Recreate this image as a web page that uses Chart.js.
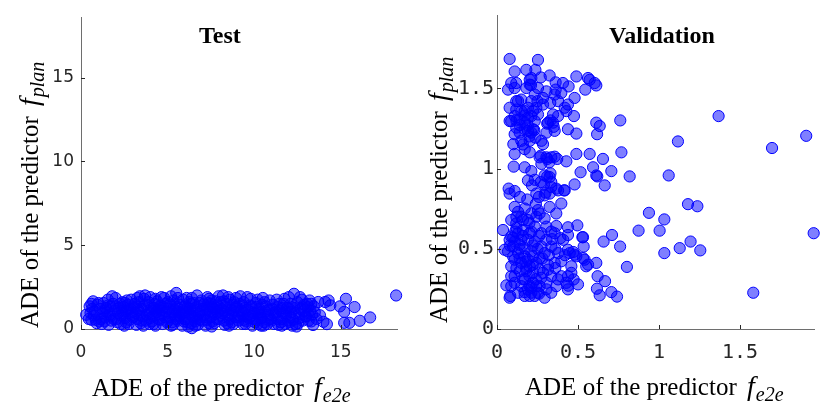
<!DOCTYPE html>
<html>
<head>
<meta charset="utf-8">
<script src="https://cdn.jsdelivr.net/npm/chart.js@4/dist/chart.umd.min.js"></script>
<style>
  html, body { margin: 0; padding: 0; background: #fff; }
  #wrap { position: relative; width: 831px; height: 408px; }
  canvas { position: absolute; top: 0; }
  #testCanvas { left: 0; }
  #valCanvas { left: 415px; }
</style>
</head>
<body>
<div id="wrap">
  <canvas id="testCanvas" width="415" height="408"></canvas>
  <canvas id="valCanvas" width="416" height="408"></canvas>
</div>
<script>
// panel titles
const titles = ["Test", "Validation"];

// tick values
const testTicksX = [0, 5, 10, 15];
const testTicksY = [0, 5, 10, 15];
const valTicksX = [0, 0.5, 1, 1.5];
const valTicksY = [0, 0.5, 1, 1.5];

// ADE f_e2e (x), ADE f_plan (y) - test set
const testPoints = [
  [0.3,0.85],[0.5,1.35],[0.6,0.55],[0.7,1.65],[0.8,1.05],[0.9,0.35],[0.95,1.45],[0.75,0.8],
  [1.1,1.2],[1.2,0.3],[1.3,1.55],[1.4,0.7],[1.5,1.0],[1.6,0.25],[1.7,1.35],[1.8,1.95],[1.9,0.6],[1.25,0.95],[1.55,1.75],[1.95,1.1],
  [2.0,1.85],[2.1,0.4],[2.2,1.25],[2.3,0.8],[2.4,1.6],[2.5,0.2],[2.6,1.05],[2.7,1.45],[2.8,0.55],[2.9,1.75],[2.15,0.95],[2.45,1.3],[2.75,0.3],[2.95,1.0],
  [3.0,0.7],[3.1,1.5],[3.2,0.25],[3.3,1.15],[3.4,1.95],[3.5,0.5],[3.6,1.35],[3.7,2.0],[3.8,0.85],[3.9,1.6],[3.15,0.95],[3.45,0.35],[3.65,1.8],[3.85,1.1],[3.55,0.75],
  [4.0,1.9],[4.1,0.45],[4.2,1.25],[4.3,0.2],[4.4,1.65],[4.5,0.9],[4.6,1.4],[4.7,0.3],[4.8,1.85],[4.9,1.05],[4.15,0.75],[4.35,1.0],[4.55,0.55],[4.75,1.3],[4.95,0.4],[4.25,1.5],
  [5.0,1.6],[5.1,0.7],[5.2,1.95],[5.3,0.25],[5.4,1.15],[5.5,2.15],[5.6,0.5],[5.7,1.45],[5.8,0.9],[5.9,1.75],[5.05,1.2],[5.25,0.4],[5.45,0.8],[5.65,1.0],[5.85,0.2],[5.35,1.7],[5.95,1.3],
  [6.0,0.6],[6.1,1.85],[6.2,0.15],[6.3,1.2],[6.4,0.05],[6.5,1.55],[6.6,0.45],[6.7,2.0],[6.8,0.9],[6.9,1.35],[6.05,1.0],[6.25,1.6],[6.45,0.75],[6.55,1.1],[6.75,0.25],[6.95,1.7],[6.35,0.35],
  [7.0,0.5],[7.1,1.45],[7.2,0.2],[7.3,1.1],[7.4,1.8],[7.5,0.7],[7.6,1.3],[7.7,0.35],[7.8,1.65],[7.9,1.0],[7.15,0.85],[7.35,1.55],[7.55,0.15],[7.75,0.9],[7.95,1.95],[7.45,1.05],
  [8.0,0.6],[8.1,1.2],[8.2,2.0],[8.3,0.25],[8.4,1.5],[8.5,0.85],[8.6,1.75],[8.7,0.4],[8.8,1.1],[8.9,0.7],[8.15,0.95],[8.35,1.3],[8.55,0.2],[8.75,1.45],[8.95,1.85],
  [9.0,1.3],[9.1,0.5],[9.2,1.95],[9.3,0.9],[9.4,1.6],[9.5,0.3],[9.6,1.15],[9.7,0.65],[9.8,1.8],[9.9,0.2],[9.25,1.1],[9.55,0.45],[9.85,1.35],
  [10.0,0.95],[10.1,1.55],[10.2,0.3],[10.3,1.2],[10.4,0.65],[10.5,1.85],[10.6,0.4],[10.7,1.35],[10.8,0.85],[10.9,1.7],[10.25,1.0],[10.55,0.2],[10.85,1.15],[10.15,0.55],
  [11.0,0.5],[11.1,1.45],[11.2,0.85],[11.3,1.75],[11.4,0.25],[11.5,1.1],[11.6,0.6],[11.7,1.5],[11.8,0.3],[11.9,1.25],[11.25,1.0],[11.55,0.4],[11.85,0.8],
  [12.0,1.9],[12.1,0.7],[12.2,1.3],[12.3,2.1],[12.4,0.3],[12.5,1.6],[12.6,0.9],[12.7,1.2],[12.8,0.5],[12.9,1.45],[12.15,1.0],[12.45,0.15],[12.75,1.75],[12.05,0.4],
  [13.0,0.75],[13.1,1.3],[13.2,1.7],[13.3,0.45],[13.4,0.24],[13.5,1.0],[13.7,1.61],[13.8,0.82],[14.0,0.43],[14.1,1.61],[14.2,0.29],[14.4,1.41],[14.3,1.7],
  [14.95,1.35],[15.3,1.8],[15.2,1.02],[15.8,1.31],[15.2,0.37],[15.5,0.37],[16.1,0.49],[16.7,0.69],[18.2,2.0],
  [0.45,0.6],[0.65,1.2],[0.85,0.55],[1.0,1.55],[1.15,0.6],[1.35,0.45],[1.45,1.25],[1.65,0.85],[1.75,0.5],[1.85,1.5],
  [2.05,0.6],[2.25,1.5],[2.35,1.1],[2.55,0.65],[2.65,1.7],[2.85,1.2],[2.6,0.4],[2.3,0.3],
  [3.05,1.3],[3.25,0.6],[3.35,1.6],[3.5,1.2],[3.75,0.5],[3.95,0.3],[3.25,1.85],[3.6,0.2],
  [4.05,1.2],[4.2,0.3],[4.45,0.6],[4.6,1.1],[4.65,1.9],[4.85,0.7],[4.3,1.8],[4.5,1.3],
  [5.0,0.45],[5.15,1.45],[5.3,1.0],[5.55,1.3],[5.6,1.85],[5.75,0.65],[5.9,1.05],[5.2,0.2],[5.5,0.6],
  [6.0,1.4],[6.15,0.4],[6.3,0.85],[6.4,1.85],[6.6,0.2],[6.65,1.3],[6.85,0.55],[6.9,1.05],[6.2,1.05],[6.55,0.7],
  [7.05,1.2],[7.25,0.55],[7.3,1.9],[7.5,1.5],[7.6,0.45],[7.7,1.2],[7.85,0.6],[7.9,1.4],[7.4,0.35],
  [8.05,1.6],[8.25,0.5],[8.3,1.05],[8.45,0.35],[8.5,1.9],[8.65,1.15],[8.8,0.3],[8.9,1.3],[8.6,0.6],
  [9.05,0.7],[9.15,1.5],[9.35,0.3],[9.45,1.25],[9.6,1.9],[9.65,0.85],[9.75,1.4],[9.95,0.6],[9.4,0.55],
  [10.05,0.4],[10.2,1.75],[10.35,0.85],[10.45,1.45],[10.65,1.05],[10.75,0.3],[10.95,0.6],[10.4,0.2],
  [11.05,1.2],[11.15,0.3],[11.35,0.6],[11.45,1.5],[11.65,0.95],[11.75,1.8],[11.95,0.5],[11.6,0.2],
  [12.1,1.5],[12.25,0.55],[12.35,0.95],[12.55,0.35],[12.65,1.9],[12.85,1.05],[12.95,0.75],[12.2,0.2],
  [13.05,1.5],[13.15,0.5],[13.25,1.1],[13.45,1.35],[13.6,0.6],[13.35,0.85],
  [0.55,0.95],[1.05,0.45],[1.35,1.1],[1.7,0.75],[2.0,1.35],[2.4,0.95],[2.55,1.55],[2.9,0.8],[3.2,1.35],[3.4,0.8],
  [3.75,1.45],[4.0,0.65],[4.3,1.15],[4.65,0.8],[4.9,1.5],[5.1,0.95],[5.4,1.45],[5.7,0.75],[5.95,0.45],[6.15,1.3],
  [6.45,1.0],[6.7,0.6],[6.85,1.55],[7.1,0.7],[7.3,1.35],[7.6,0.95],[7.85,1.25],[8.1,0.8],[8.4,1.1],[8.7,0.9],
  [8.85,1.6],[9.1,1.05],[9.35,1.4],[9.6,0.75],[9.85,1.0],[10.1,1.3],[10.4,1.0],[10.6,1.6],[10.8,0.55],[11.1,0.95],
  [11.35,1.3],[11.6,1.25],[11.8,1.05],[12.0,1.2],[12.35,1.25],[12.6,0.65],[12.8,1.3],[13.1,0.95],[13.3,1.5],[3.9,0.95],
  [2.7,1.1],[1.55,1.4],[0.6,1.5],[4.45,1.2],[5.55,1.05],[6.35,1.5],[7.55,1.7],[8.25,1.65],[9.25,0.75],[10.3,0.8]
];

// ADE f_e2e (x), ADE f_plan (y) - validation set
const valPoints = [
  [0.078,1.683],[0.253,1.677],[0.109,1.605],[0.181,1.615],[0.237,1.615],[0.088,1.533],[0.119,1.533],[0.202,1.553],
  [0.27,1.568],[0.325,1.58],[0.362,1.537],[0.407,1.533],[0.442,1.512],[0.49,1.574],[0.562,1.564],[0.572,1.553],
  [0.603,1.533],[0.613,1.518],[0.545,1.492],[0.479,1.44],[0.438,1.399],[0.428,1.358],[0.475,1.327],[0.377,1.327],
  [0.315,1.286],[0.346,1.337],[0.284,1.44],[0.233,1.461],[0.181,1.502],[0.202,1.523],[0.305,1.481],[0.362,1.492],
  [0.329,1.409],[0.284,1.399],[0.119,1.42],[0.15,1.43],[0.078,1.379],[0.088,1.296],[0.109,1.327],[0.14,1.307],
  [0.119,1.255],[0.171,1.286],[0.212,1.327],[0.191,1.235],[0.222,1.245],[0.237,1.193],[0.284,1.152],[0.305,1.224],
  [0.356,1.235],[0.346,1.286],[0.438,1.245],[0.49,1.218],[0.613,1.286],[0.634,1.265],[0.618,1.214],[0.761,1.3],
  [0.101,1.152],[0.109,1.091],[0.171,1.121],[0.202,1.101],[0.15,1.173],[0.263,1.07],[0.305,1.07],[0.335,1.07],
  [0.356,1.074],[0.372,1.06],[0.274,1.029],[0.323,1.039],[0.428,1.045],[0.49,1.091],[0.572,1.091],[0.654,1.06],
  [0.768,1.101],[0.593,1.008],[0.516,0.977],[0.706,0.984],[0.613,0.957],[0.619,0.951],[0.665,0.895],[0.819,0.951],
  [1.06,0.957],[1.117,1.169],[1.368,1.327],[1.698,1.128],[1.909,1.204],
  [0.103,1.012],[0.171,1.008],[0.212,0.984],[0.191,0.926],[0.233,0.93],[0.27,0.916],[0.216,0.895],[0.294,0.957],
  [0.325,0.947],[0.335,0.916],[0.335,0.885],[0.366,0.875],[0.414,0.864],[0.479,0.901],[0.259,0.823],[0.243,0.844],
  [0.294,0.833],[0.325,0.844],[0.187,0.807],[0.072,0.875],[0.109,0.86],[0.078,0.844],[0.142,0.823],[0.109,0.761],
  [0.13,0.73],[0.171,0.751],[0.15,0.7],[0.088,0.679],[0.119,0.658],[0.191,0.679],[0.253,0.741],[0.263,0.72],
  [0.243,0.7],[0.294,0.689],[0.366,0.72],[0.366,0.642],[0.438,0.634],[0.496,0.646],[0.037,0.617],[0.113,0.607],
  [0.16,0.617],[0.212,0.607],[0.274,0.597],[0.335,0.607],[0.391,0.566],[0.438,0.586],[0.531,0.572],[0.71,0.586],
  [0.658,0.545],[0.76,0.514],[0.874,0.613],[0.938,0.724],[1.033,0.683],[1.004,0.613],[1.179,0.778],[1.237,0.765],
  [1.195,0.545],[1.128,0.504],[1.255,0.49],[1.033,0.473],[1.955,0.597],[1.582,0.226],[0.802,0.387],[0.741,0.202],
  [0.706,0.23],[0.634,0.21],[0.617,0.251],[0.667,0.298],[0.621,0.329],[0.613,0.412],[0.562,0.401],[0.541,0.432],
  [0.535,0.514],[0.527,0.572],[0.5,0.278],[0.479,0.463],[0.438,0.494],[0.459,0.391],[0.459,0.35],[0.428,0.288],
  [0.438,0.247],[0.377,0.309],[0.366,0.267],[0.335,0.226],[0.294,0.195],[0.305,0.247],[0.397,0.422],[0.356,0.412],
  [0.377,0.473],[0.335,0.514],[0.315,0.401],[0.284,0.35],[0.315,0.37],[0.222,0.288],[0.202,0.206],[0.233,0.206],
  [0.191,0.247],[0.171,0.309],[0.14,0.36],[0.109,0.329],[0.088,0.267],[0.058,0.272],[0.078,0.195],[0.082,0.206],
  [0.109,0.288],[0.15,0.267],[0.088,0.391],[0.109,0.432],[0.15,0.412],[0.191,0.432],[0.222,0.453],[0.243,0.412],
  [0.263,0.37],[0.274,0.319],[0.222,0.35],[0.181,0.36],[0.202,0.391],[0.212,0.484],[0.171,0.504],[0.14,0.525],
  [0.099,0.514],[0.047,0.494],[0.068,0.484],[0.109,0.545],[0.088,0.576],[0.15,0.556],[0.191,0.556],[0.233,0.545],
  [0.274,0.514],[0.294,0.473],[0.305,0.556],[0.263,0.442],[0.171,0.453],[0.13,0.473],[0.13,0.597],[0.078,0.556],
  [0.202,0.597],[0.233,0.638],[0.305,0.638],[0.356,0.597],[0.409,0.556],[0.449,0.473],[0.49,0.453],[0.531,0.442],
  [0.551,0.391],[0.088,0.329],[0.13,0.226],[0.171,0.206],[0.212,0.226],[0.253,0.226],[0.263,0.267],[0.305,0.288],
  [0.335,0.329],[0.397,0.329],[0.438,0.329],[0.473,0.309],[0.212,0.257],[0.243,0.267],[0.16,0.679],[0.212,0.72],
  [0.325,0.761],[0.397,0.782],[0.377,0.864],[0.418,0.864],
  [0.109,1.502],[0.191,1.379],[0.212,1.42],[0.243,1.379],[0.171,1.358],[0.222,1.358],[0.191,1.317],[0.233,1.296],
  [0.253,1.337],[0.171,1.245],[0.14,1.224],[0.212,1.224],[0.274,1.173],[0.202,1.173],[0.109,1.214],[0.078,1.296],
  [0.119,1.368],[0.15,1.358],[0.068,1.492],[0.377,1.42],[0.418,1.379],[0.397,1.471],[0.356,1.461],[0.253,1.502],
  [0.212,1.564],
  [0.1,0.45],[0.12,0.38],[0.16,0.31],[0.18,0.42],[0.2,0.33],[0.22,0.4],[0.24,0.31],[0.26,0.22],[0.2,0.27],[0.17,0.23],
  [0.14,0.5],[0.16,0.58],[0.12,0.63],[0.08,0.52],[0.1,0.57],[0.22,0.52],[0.26,0.58],[0.28,0.44],[0.32,0.46],[0.34,0.56],
  [0.12,1.3],[0.14,1.27],[0.17,1.33],[0.19,1.27],[0.2,1.2],[0.16,1.15],[0.13,1.42],[0.23,1.24],[0.21,1.52],[0.25,1.42],
  [0.31,1.28],[0.33,1.3],[0.35,1.26],[0.29,0.9],[0.31,0.95],[0.33,0.97],[0.3,0.85],[0.27,1.08],[0.31,1.06],[0.12,0.7],
  [0.2,0.66],[0.24,0.78],[0.18,0.38],[0.14,0.44],[0.25,0.5],[0.36,0.38],[0.42,0.46],[0.47,0.48],[0.44,0.27],[0.36,0.5]
];

const TICK = "#262626";
const LABEL_FONT = "25px 'Liberation Serif'";

// draws "ADE of the predictor f_sub" with italic f and subscript
function drawRich(ctx, sub) {
  const base = "ADE of the predictor ";
  ctx.font = LABEL_FONT;
  ctx.fillText(base, 0, 0);
  let x = ctx.measureText(base).width + 4;
  ctx.font = "italic 28px 'Liberation Serif'";
  ctx.fillText("f", x, 0);
  x += ctx.measureText("f").width + 1;
  ctx.font = "italic 20px 'Liberation Serif'";
  ctx.fillText(sub, x, 6);
}

function decorPlugin(opts) {
  return {
    id: "decor",
    afterDraw(chart) {
      const ctx = chart.ctx;
      const xs = chart.scales.x, ys = chart.scales.y;
      const area = chart.chartArea;
      ctx.save();
      // inward ticks
      ctx.strokeStyle = TICK;
      ctx.lineWidth = 1;
      ctx.beginPath();
      xs.ticks.forEach(t => {
        const px = Math.round(xs.getPixelForValue(t.value)) + 0.5;
        ctx.moveTo(px, area.bottom);
        ctx.lineTo(px, area.bottom - 4);
      });
      ys.ticks.forEach(t => {
        const py = Math.round(ys.getPixelForValue(t.value)) + 0.5;
        ctx.moveTo(area.left, py);
        ctx.lineTo(area.left + 4, py);
      });
      ctx.stroke();
      // title
      ctx.fillStyle = "#000";
      ctx.textBaseline = "alphabetic";
      ctx.textAlign = "left";
      ctx.font = "bold 24px 'Liberation Serif'";
      ctx.fillText(opts.title, opts.titleX, 43);
      // x label
      ctx.save();
      ctx.translate(opts.xLabelX, opts.xLabelY);
      drawRich(ctx, "e2e");
      ctx.restore();
      // y label
      ctx.save();
      ctx.translate(opts.yLabelX, opts.yLabelY);
      ctx.rotate(-Math.PI / 2);
      drawRich(ctx, "plan");
      ctx.restore();
      ctx.restore();
    }
  };
}

function makeChart(canvasId, points, cfg) {
  return new Chart(document.getElementById(canvasId), {
    type: "scatter",
    data: {
      datasets: [{
        data: points.map(p => ({ x: p[0], y: p[1] })),
        pointRadius: 5.6,
        pointBackgroundColor: "rgba(0,0,255,0.5)",
        pointBorderColor: "#0000ff",
        pointBorderWidth: 1,
        clip: false
      }]
    },
    options: {
      responsive: false,
      animation: false,
      devicePixelRatio: 1,
      layout: { autoPadding: false, padding: { top: 13, right: cfg.padRight, left: 0, bottom: 0 } },
      plugins: { legend: { display: false }, tooltip: { enabled: false }, title: { display: false } },
      scales: {
        x: {
          type: "linear",
          min: 0, max: cfg.xMax,
          afterBuildTicks: s => { s.ticks = cfg.ticksX.map(v => ({ value: v })); },
          afterFit: s => { s.height = 79; },
          grid: { display: false, drawTicks: false },
          border: { display: true, color: "#6e6e6e", width: 1 },
          ticks: { padding: cfg.xPad, color: TICK, font: { family: cfg.tickFont, size: cfg.tickSize },
                   maxRotation: 0, callback: v => String(v) }
        },
        y: {
          type: "linear",
          min: 0, max: cfg.yMax,
          afterBuildTicks: s => { s.ticks = cfg.ticksY.map(v => ({ value: v })); },
          afterFit: s => { s.width = cfg.yWidth; },
          grid: { display: false, drawTicks: false },
          border: { display: true, color: "#6e6e6e", width: 1 },
          ticks: { padding: cfg.yPad, color: TICK, font: { family: cfg.tickFont, size: cfg.tickSize },
                   callback: v => String(v) }
        }
      }
    },
    plugins: [decorPlugin(cfg)]
  });
}

makeChart("testCanvas", testPoints, {
  xMax: 18.25, yMax: 18.6, ticksX: testTicksX, ticksY: testTicksY,
  padRight: 18, yWidth: 81, tickFont: "DejaVu Sans", tickSize: 17, xPad: 13, yPad: 7,
  title: titles[0], titleX: 199, xLabelX: 92, xLabelY: 396, yLabelX: 38, yLabelY: 328
});

makeChart("valCanvas", valPoints, {
  xMax: 1.957, yMax: 1.957, ticksX: valTicksX, ticksY: valTicksY,
  padRight: 17, yWidth: 82, tickFont: "DejaVu Sans Mono", tickSize: 20, xPad: 12, yPad: 3,
  title: titles[1], titleX: 194, xLabelX: 110, xLabelY: 395, yLabelX: 32, yLabelY: 323
});
</script>
</body>
</html>
